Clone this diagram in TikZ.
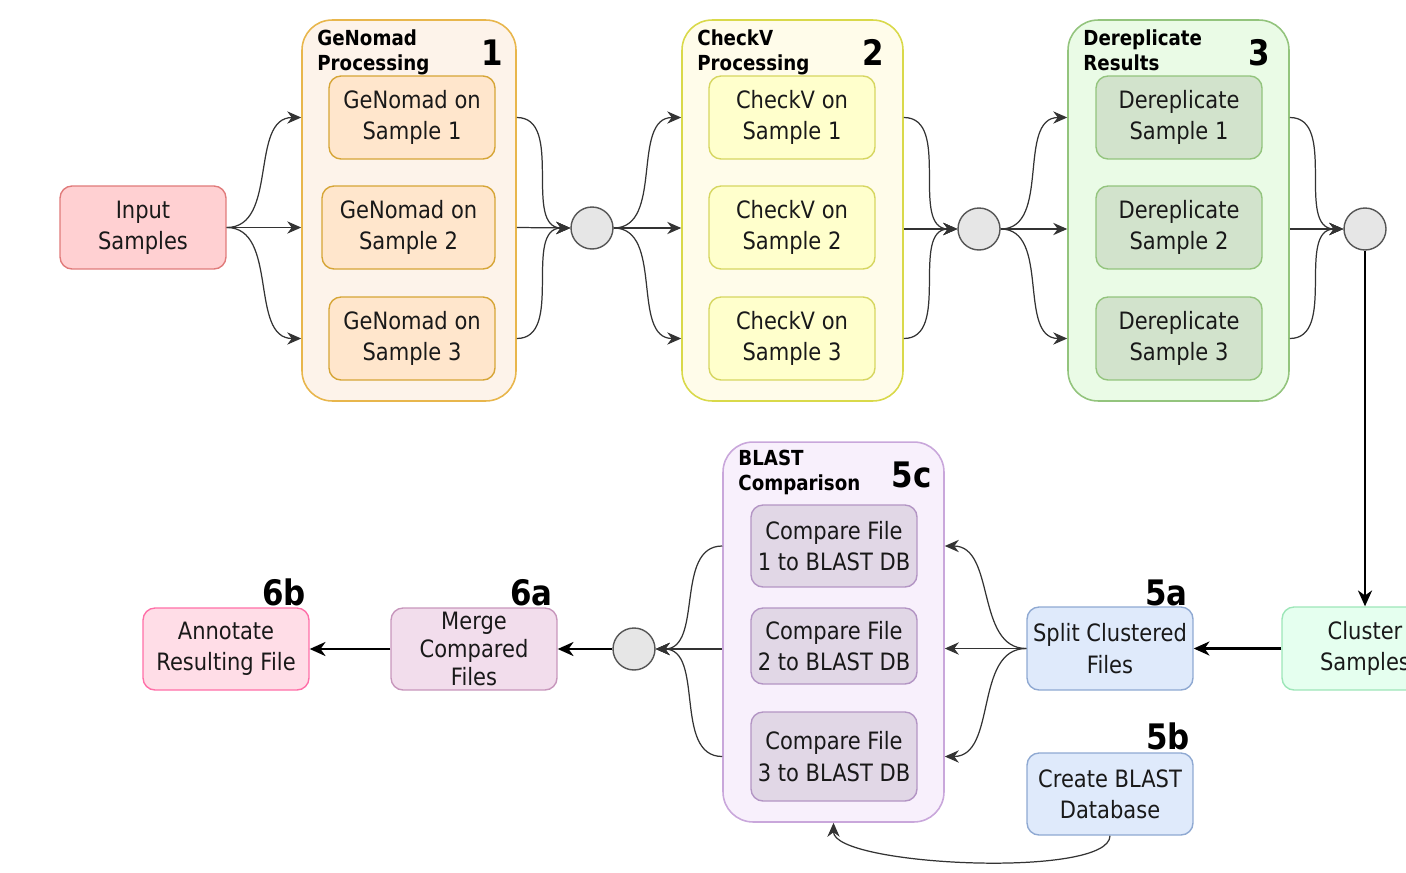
\documentclass[tikz,border=0pt]{standalone}
\usepackage{fontspec}
\setmainfont{DejaVu Sans}[FakeStretch=0.88]
\usetikzlibrary{arrows.meta,calc}
\definecolor{inF}{HTML}{FFD0D2}\definecolor{inD}{HTML}{E07A7A}
\definecolor{c1F}{HTML}{FDF3EA}\definecolor{c1D}{HTML}{E8B64C}
\definecolor{gF}{HTML}{FFE6CC}\definecolor{gD}{HTML}{D6A536}
\definecolor{c2F}{HTML}{FFFCEA}\definecolor{c2D}{HTML}{D9D94A}
\definecolor{vF}{HTML}{FFFFCC}\definecolor{vD}{HTML}{D6D660}
\definecolor{c3F}{HTML}{EAFBE6}\definecolor{c3D}{HTML}{93C47D}
\definecolor{dF}{HTML}{D2E3CC}\definecolor{dD}{HTML}{93C47D}
\definecolor{clF}{HTML}{E5FFEF}\definecolor{clD}{HTML}{9DE6B8}
\definecolor{bF}{HTML}{DFEAFB}\definecolor{bD}{HTML}{8FA9D2}
\definecolor{c5F}{HTML}{F8F0FC}\definecolor{c5D}{HTML}{C9A7DB}
\definecolor{cfF}{HTML}{E1D7E6}\definecolor{cfD}{HTML}{B395C4}
\definecolor{mgF}{HTML}{F2DDEC}\definecolor{mgD}{HTML}{C796BC}
\definecolor{anF}{HTML}{FFDDE7}\definecolor{anD}{HTML}{FF6FA8}
\definecolor{ciF}{HTML}{E6E6E6}\definecolor{ciD}{HTML}{555555}
\begin{document}
\begin{tikzpicture}[x=0.02cm,y=-0.02cm,
  box/.style={rectangle, rounded corners=0.24cm, minimum width=3.32cm, minimum height=1.66cm,
    align=center, line width=0.8pt, inner sep=0pt, text=black!90,
    font=\fontsize{13.6}{17.8}\selectfont},
  cont/.style={rectangle, rounded corners=0.6cm, line width=0.9pt, minimum width=4.42cm, minimum height=7.62cm, inner sep=0pt},
  circ/.style={circle, minimum size=0.84cm, inner sep=0pt, fill=ciF, draw=ciD, line width=0.8pt},
  title/.style={anchor=north west, align=left, inner sep=0pt, font=\bfseries\fontsize{11.8}{14.2}\selectfont},
  num/.style={anchor=base east, inner sep=0pt, font=\bfseries\fontsize{20}{20}\selectfont},
  thin/.style={draw=black!80, line width=0.7pt, -{Stealth[length=8pt,width=7pt,inset=2.6pt]}},
  thick/.style={draw=black, line width=1.4pt, -{Stealth[length=9pt,width=8pt,inset=2.8pt]}}
]
\useasboundingbox (0,0) rectangle (1406,872);

% containers
\node[cont, fill=c1F, draw=c1D, minimum width=4.28cm] (c1) at (409,210.5) {};
\node[cont, fill=c2F, draw=c2D] (c2) at (792.5,210.5) {};
\node[cont, fill=c3F, draw=c3D] (c3) at (1178.5,210.5) {};
\node[cont, fill=c5F, draw=c5D, minimum height=7.6cm] (c5) at (833.5,632) {};

\node[title] (t1) at (317,29) {GeNomad\\Processing};
\node[title] (t2) at (697,29) {CheckV\\Processing};
\node[title] (t3) at (1083,29) {Dereplicate\\Results};
\node[title] (t5) at (738,450) {BLAST\\Comparison};
\node[num] (n1) at (503,65) {1};
\node[num] (n2) at (884,65) {2};
\node[num] (n3) at (1270,65) {3};
\node[num] (n5c) at (932,487) {5c};
\node[num] (n5a) at (1188,605) {5a};
\node[num] (n5b) at (1190,749) {5b};
\node[num] (n6a) at (553,605) {6a};
\node[num] (n6b) at (306,605) {6b};

% nodes
\node[box, fill=inF, draw=inD] (in) at (143,227.5) {Input\\Samples};
\node[box, fill=gF, draw=gD] (g1) at (412,117.5) {GeNomad on\\Sample 1};
\node[box, fill=gF, draw=gD, minimum width=3.46cm] (g2) at (408.5,227.5) {GeNomad on\\Sample 2};
\node[box, fill=gF, draw=gD] (g3) at (412,338.5) {GeNomad on\\Sample 3};
\node[box, fill=vF, draw=vD] (v1) at (792,117.5) {CheckV on\\Sample 1};
\node[box, fill=vF, draw=vD] (v2) at (792,227.5) {CheckV on\\Sample 2};
\node[box, fill=vF, draw=vD] (v3) at (792,338.5) {CheckV on\\Sample 3};
\node[box, fill=dF, draw=dD] (d1) at (1179,117.5) {Dereplicate\\Sample 1};
\node[box, fill=dF, draw=dD] (d2) at (1179,227.5) {Dereplicate\\Sample 2};
\node[box, fill=dF, draw=dD] (d3) at (1179,338.5) {Dereplicate\\Sample 3};
\node[box, fill=clF, draw=clD] (cl) at (1365,648.5) {Cluster\\Samples};
\node[box, fill=bF, draw=bD] (sp) at (1110,648.5) {Split Clustered\\Files};
\node[box, fill=bF, draw=bD, minimum height=1.64cm] (db) at (1110,794) {Create BLAST\\Database};
\node[box, fill=cfF, draw=cfD, minimum height=1.64cm] (cf1) at (834,546) {Compare File\\1 to BLAST DB};
\node[box, fill=cfF, draw=cfD, minimum height=1.52cm] (cf2) at (834,646) {Compare File\\2 to BLAST DB};
\node[box, fill=cfF, draw=cfD, minimum height=1.78cm] (cf3) at (834,756.5) {Compare File\\3 to BLAST DB};
\node[box, fill=mgF, draw=mgD, minimum height=1.64cm, font=\fontsize{13.6}{15.8}\selectfont] (mg) at (474,649) {Merge\\Compared\\Files};
\node[box, fill=anF, draw=anD, minimum height=1.64cm] (an) at (226,649) {Annotate\\Resulting File};

\node[circ] (ci1) at (592,228) {};
\node[circ] (ci2) at (979,229) {};
\node[circ] (ci3) at (1365,229) {};
\node[circ] (ci4) at (634,649) {};

% stage 1
\draw[thin] (in.east) to[out=0,in=180] (c1.west |- g1);
\draw[thin] (in.east) -- (c1.west |- g2);
\draw[thin] (in.east) to[out=0,in=180] (c1.west |- g3);
\draw[thin] (c1.east |- g1) to[out=0,in=180] (ci1.west);
\draw[thin] (c1.east |- g2) -- (ci1.west);
\draw[thin] (c1.east |- g3) to[out=0,in=180] (ci1.west);
% stage 2
\draw[thin] (ci1.east) to[out=0,in=180] (c2.west |- v1);
\draw[thin] (ci1.east) -- (c2.west |- ci1);
\draw[thin] (ci1.east) to[out=0,in=180] (c2.west |- v3);
\draw[thin] (c2.east |- v1) to[out=0,in=180] (ci2.west);
\draw[thin] (c2.east |- ci2) -- (ci2.west);
\draw[thin] (c2.east |- v3) to[out=0,in=180] (ci2.west);
% stage 3
\draw[thin] (ci2.east) to[out=0,in=180] (c3.west |- d1);
\draw[thin] (ci2.east) -- (c3.west |- ci2);
\draw[thin] (ci2.east) to[out=0,in=180] (c3.west |- d3);
\draw[thin] (c3.east |- d1) to[out=0,in=180] (ci3.west);
\draw[thin] (c3.east |- ci3) -- (ci3.west);
\draw[thin] (c3.east |- d3) to[out=0,in=180] (ci3.west);
% down and back
\draw[thick] (ci3.south) -- (cl.north);
\draw[thick] (cl.west) -- (sp.east);
\draw[thin] (sp.west) to[out=180,in=0] (c5.east |- cf1);
\draw[thin] (sp.west) -- (c5.east |- sp);
\draw[thin] (sp.west) to[out=180,in=0] (c5.east |- cf3);
\draw[thin] (db.south) to[out=-90,in=-90,looseness=0.4] (c5.south);
\draw[thin] (c5.west |- cf1) to[out=180,in=0] (ci4.east);
\draw[thin] (c5.west |- ci4) -- (ci4.east);
\draw[thin] (c5.west |- cf3) to[out=180,in=0] (ci4.east);
\draw[thick] (ci4.west) -- (mg.east);
\draw[thick] (mg.west) -- (an.east);
\end{tikzpicture}
\end{document}
